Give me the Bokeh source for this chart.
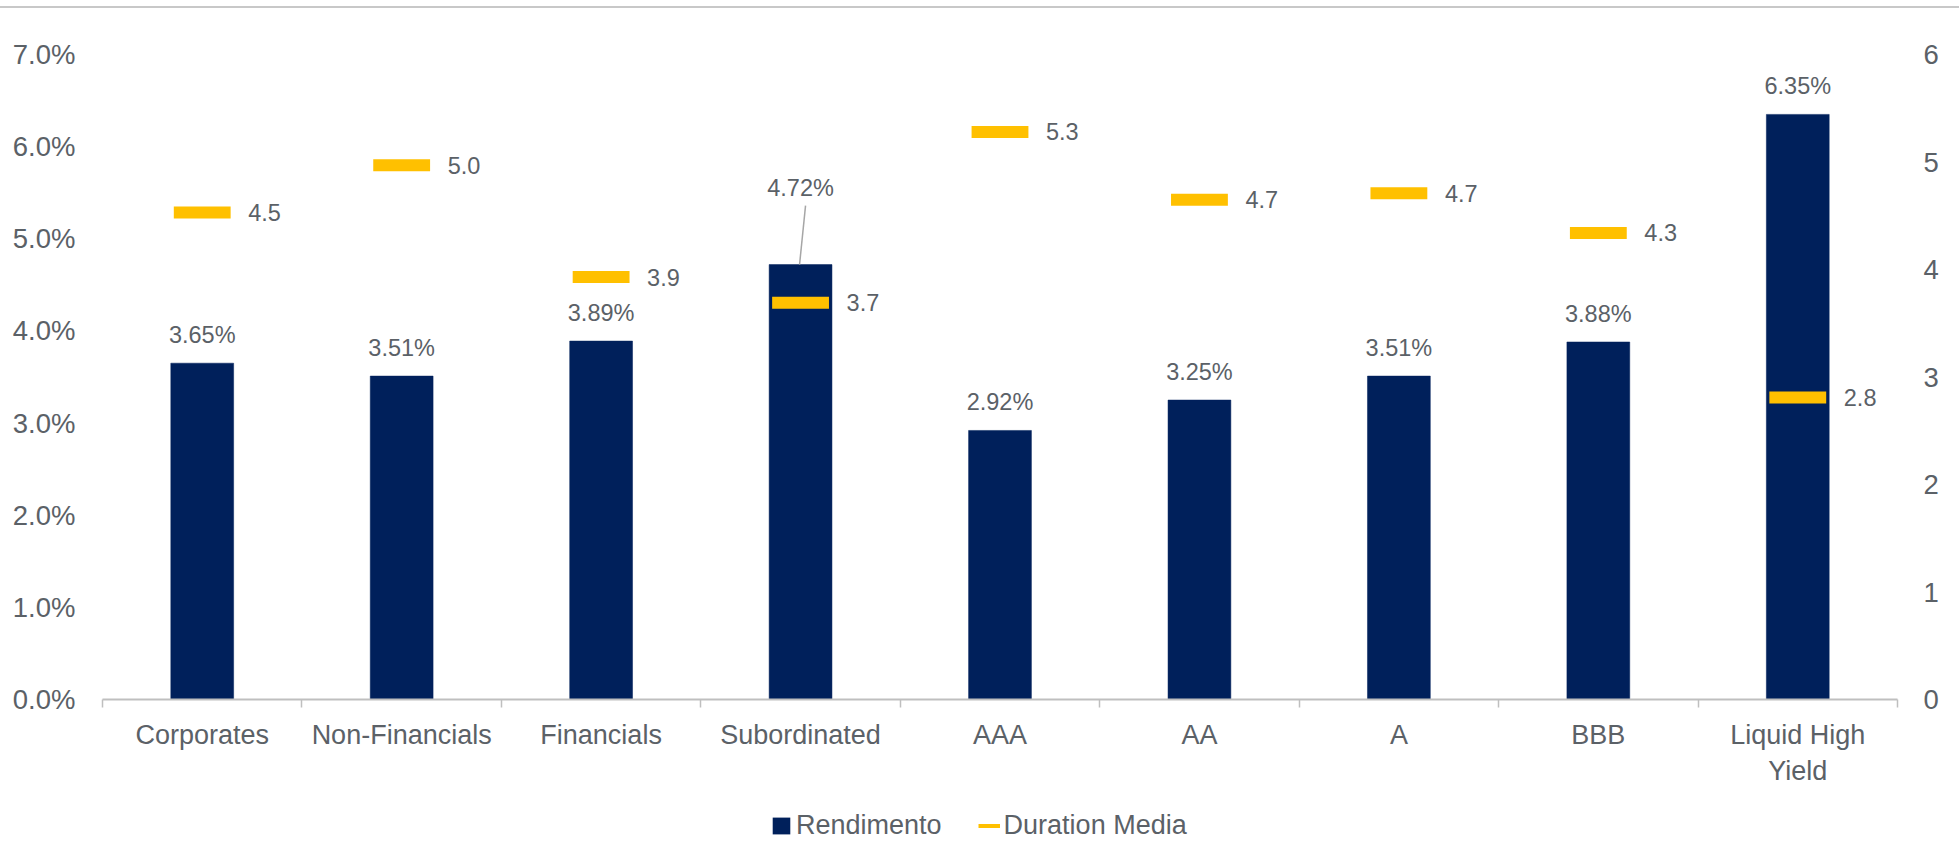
import numpy as np
from bokeh.plotting import figure
from bokeh.layouts import column
from bokeh.models import (Range1d, LinearAxis, FixedTicker, PrintfTickFormatter,
                          ColumnDataSource, Legend, LegendItem, Div)
from bokeh.embed import file_html
from bokeh.resources import INLINE
from bokeh.core.properties import value

# ---- data ----
categories = ["Corporates", "Non-Financials", "Financials", "Subordinated", "AAA",
              "AA", "A", "BBB", "Liquid High\nYield"]
rendimento = [3.65, 3.51, 3.89, 4.72, 2.92, 3.25, 3.51, 3.88, 6.35]
duration = [4.53, 4.97, 3.93, 3.69, 5.28, 4.65, 4.71, 4.34, 2.81]
duration_labels = ["4.5", "5.0", "3.9", "3.7", "5.3", "4.7", "4.7", "4.3", "2.8"]
series_names = ["Rendimento", "Duration Media"]
left_ticks = [0, 1, 2, 3, 4, 5, 6, 7]
right_ticks = [0, 1, 2, 3, 4, 5, 6]

NAVY = "#00205B"
GOLD = "#FFC000"
TXT = "#5b6167"
FONT = "Liberation Sans"

n = len(categories)
xc = np.arange(n) + 0.5

label_offsets = [-28] * n
label_offsets[3] = -77  # Subordinated label lifted with leader line

src = ColumnDataSource(dict(
    x=xc, r=rendimento, d=duration,
    rlab=[f"{v:.2f}%" for v in rendimento],
    dlab=duration_labels,
    roff=label_offsets,
))

p = figure(width=1959, height=780, output_backend="svg", toolbar_location=None,
           x_range=Range1d(0, n), y_range=Range1d(0, 7),
           min_border_left=102, min_border_right=62, min_border_top=46,
           min_border_bottom=88, x_axis_type=None, y_axis_type=None)
p.extra_y_ranges = {"dur": Range1d(0, 6)}
p.grid.visible = False
p.outline_line_color = None
p.background_fill_color = "white"
p.border_fill_color = "white"

# bars
p.vbar(x="x", top="r", width=0.315, source=src, fill_color=NAVY,
       line_color=NAVY, line_width=0.5)

# bar labels
p.text(x="x", y="r", text="rlab", source=src, y_offset="roff",
       text_align="center", text_baseline="middle",
       text_font=value(FONT), text_font_size="23.5px", text_color=TXT)

# leader line for Subordinated
i = 3
p.segment(x0=[xc[i] - 0.005], y0=[rendimento[i]], x1=[xc[i] + 0.025],
          y1=[rendimento[i] + 0.64], line_color="#a6a6a6", line_width=1.5)

# duration markers
p.rect(x="x", y="d", width=0.285, height=12, height_units="screen", source=src,
       y_range_name="dur", fill_color=GOLD, line_color=None)
p.text(x="x", y="d", text="dlab", source=src, y_range_name="dur",
       x_offset=46, text_align="left", text_baseline="middle",
       text_font=value(FONT), text_font_size="23.5px", text_color=TXT)

# axes
xaxis = LinearAxis(ticker=FixedTicker(ticks=list(xc), minor_ticks=list(range(n + 1))),
                   major_label_overrides={float(x): c for x, c in zip(xc, categories)})
xaxis.axis_line_color = "#bfbfbf"
xaxis.axis_line_width = 2
xaxis.major_tick_line_color = None
xaxis.major_tick_out = 0
xaxis.major_tick_in = 0
xaxis.minor_tick_line_color = "#bfbfbf"
xaxis.minor_tick_line_width = 1.5
xaxis.minor_tick_out = 8
xaxis.minor_tick_in = 0
xaxis.major_label_standoff = 12
xaxis.major_label_text_font = FONT
xaxis.major_label_text_font_size = "27px"
xaxis.major_label_text_color = TXT
p.add_layout(xaxis, "below")

yaxis = LinearAxis(ticker=FixedTicker(ticks=left_ticks),
                   formatter=PrintfTickFormatter(format="%.1f%%"))
yaxis.axis_line_color = None
yaxis.major_tick_line_color = None
yaxis.minor_tick_line_color = None
yaxis.major_tick_out = 0
yaxis.major_label_standoff = 27
yaxis.major_label_text_font = FONT
yaxis.major_label_text_font_size = "27.5px"
yaxis.major_label_text_color = TXT
p.add_layout(yaxis, "left")

raxis = LinearAxis(y_range_name="dur", ticker=FixedTicker(ticks=right_ticks))
raxis.axis_line_color = None
raxis.major_tick_line_color = None
raxis.minor_tick_line_color = None
raxis.major_tick_out = 0
raxis.major_label_standoff = 26
raxis.major_label_text_font = FONT
raxis.major_label_text_font_size = "27.5px"
raxis.major_label_text_color = TXT
p.add_layout(raxis, "right")

# ---- legend strip (separate figure below the chart) ----
lg = figure(width=1959, height=53, output_backend="svg", toolbar_location=None,
            x_range=Range1d(0, 1), y_range=Range1d(0, 1),
            min_border_left=0, min_border_right=0, min_border_top=0,
            min_border_bottom=0, x_axis_type=None, y_axis_type=None)
lg.grid.visible = False
lg.outline_line_color = None
leg_bar = lg.vbar(x=[np.nan], top=[np.nan], width=0.1, fill_color=NAVY, line_color=None)
leg_line = lg.line(x=[np.nan, np.nan], y=[np.nan, np.nan], line_color=GOLD, line_width=4)
legend = Legend(items=[LegendItem(label=series_names[0], renderers=[leg_bar]),
                       LegendItem(label=series_names[1], renderers=[leg_line])],
                location=(668, 0), orientation="horizontal",
                glyph_width=22, glyph_height=21, label_standoff=4, spacing=36,
                padding=0, margin=0, border_line_color=None,
                background_fill_alpha=0,
                label_text_font=FONT, label_text_font_size="27px",
                label_text_color=TXT)
lg.add_layout(legend, "center")

topline = Div(text="", width=1959, height=2, margin=(6, 0, 0, 0),
              styles={"background-color": "#c8c8c8"})

layout = column(topline, p, lg, spacing=0)
open("out.html", "w").write(file_html(layout, INLINE))
